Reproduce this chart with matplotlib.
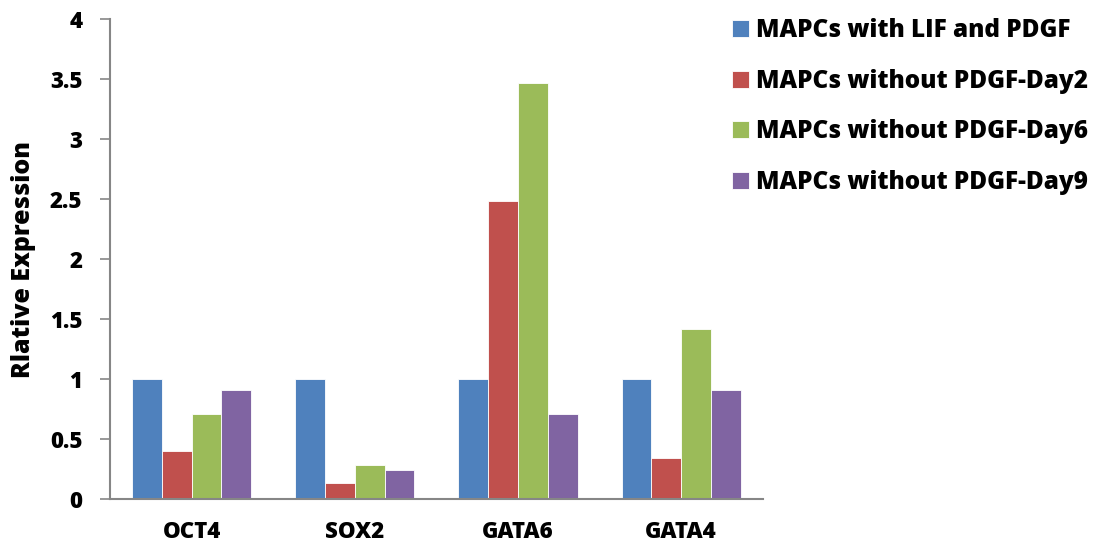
import matplotlib
matplotlib.use("Agg")
import matplotlib.pyplot as plt
import numpy as np

genes = ["OCT4", "SOX2", "GATA6", "GATA4"]
series_names = [
    "MAPCs with LIF and PDGF",
    "MAPCs without PDGF-Day2",
    "MAPCs without PDGF-Day6",
    "MAPCs without PDGF-Day9",
]
with_lif_pdgf = [1.0, 1.0, 1.0, 1.0]
no_pdgf_day2 = [0.40, 0.13, 2.48, 0.34]
no_pdgf_day6 = [0.71, 0.28, 3.47, 1.42]
no_pdgf_day9 = [0.91, 0.24, 0.71, 0.91]
colors = ["#4F81BD", "#C0504D", "#9BBB59", "#8064A2"]
y_ticks = [0, 0.5, 1, 1.5, 2, 2.5, 3, 3.5, 4]
y_tick_labels = ["0", "0.5", "1", "1.5", "2", "2.5", "3", "3.5", "4"]

plt.rcParams["font.family"] = ["Open Sans", "DejaVu Sans"]
W = 800

fig = plt.figure(figsize=(10.96, 5.46), dpi=100)
ax = fig.add_axes([0.1004, 0.0861, 0.5955, 0.879])

values = [with_lif_pdgf, no_pdgf_day2, no_pdgf_day6, no_pdgf_day9]
x = np.arange(len(genes))
bw = 0.1825
for i, (vals, name, c) in enumerate(zip(values, series_names, colors)):
    ax.bar(x + (i - 1.5) * bw, vals, width=bw, color=c, label=name,
           edgecolor="white", linewidth=0.6)

ax.set_xlim(-0.5, len(genes) - 0.5)
ax.set_ylim(0, 4)
ax.set_yticks(y_ticks)
ax.set_yticklabels(y_tick_labels)
ax.set_xticks(x)
ax.set_xticklabels(genes)

for s in ["top", "right"]:
    ax.spines[s].set_visible(False)
for s in ["left", "bottom"]:
    ax.spines[s].set_color("#868686")
    ax.spines[s].set_linewidth(1.5)

ax.tick_params(axis="y", direction="out", length=7, width=1.2, color="#868686",
               labelsize=16, pad=13)
ax.tick_params(axis="x", length=0, labelsize=16, pad=15)
for lab in ax.get_xticklabels() + ax.get_yticklabels():
    lab.set_fontweight(W)

ax.set_ylabel("Rlative Expression", fontsize=18, fontweight=W, labelpad=10)

leg = ax.legend(loc="upper left", bbox_to_anchor=(0.6587, 0.985),
                bbox_transform=fig.transFigure, frameon=False,
                prop={"size": 17.5, "weight": W},
                handlelength=0.7, handleheight=0.7, handletextpad=0.3,
                labelspacing=1.06, borderaxespad=0)

fig.savefig("out.png", dpi=100, facecolor="white")
